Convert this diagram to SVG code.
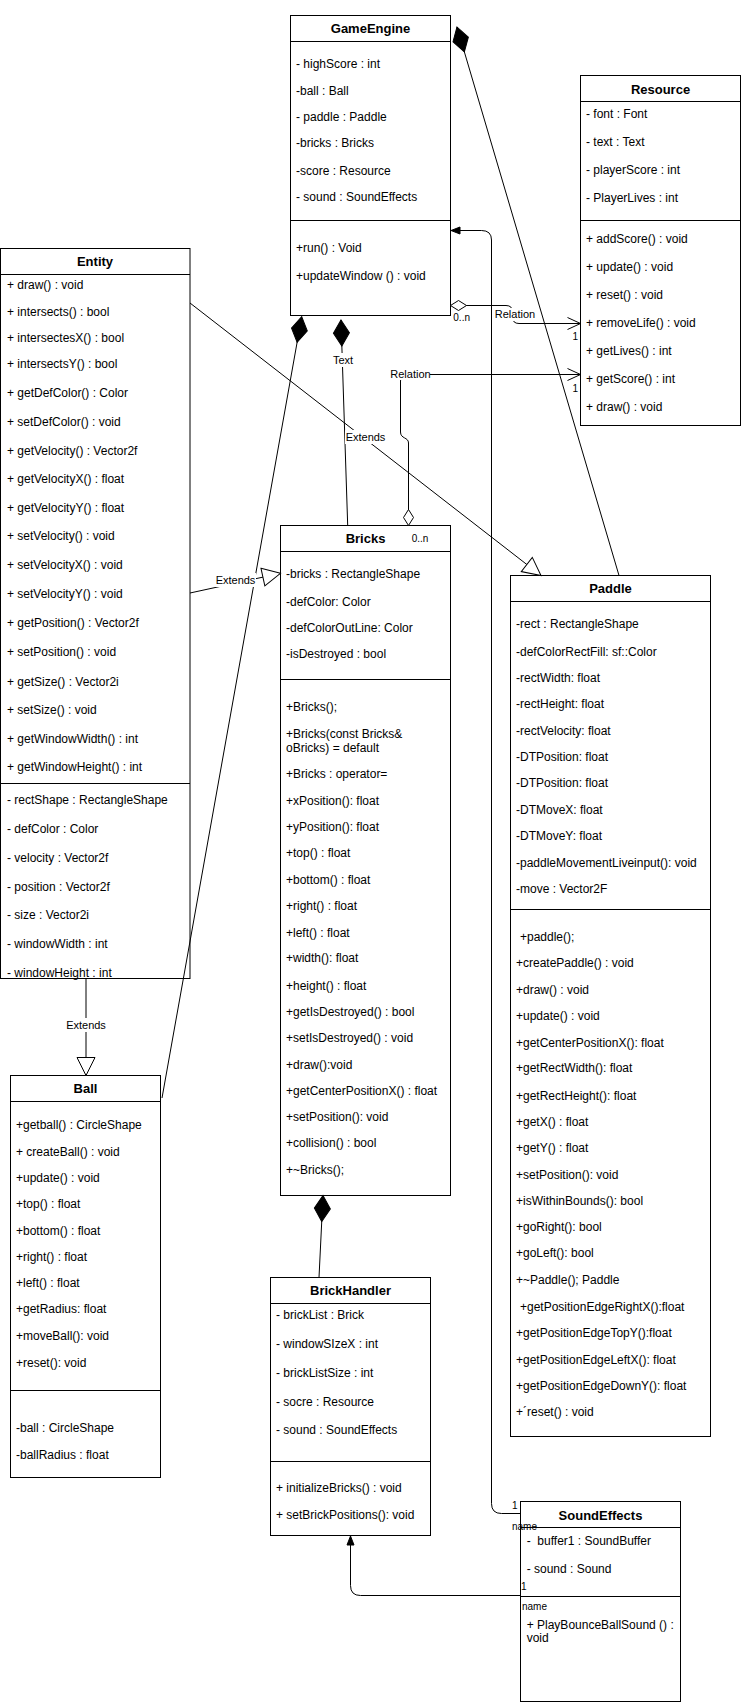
<svg xmlns="http://www.w3.org/2000/svg" width="741" height="1705" viewBox="0 0 741 1705">
<style>
.box{fill:#fff;stroke:#000;stroke-width:1}
.ln{fill:none;stroke:#000;stroke-width:1}
text{font-family:"Liberation Sans",Arial,sans-serif;font-size:12px;fill:#000}
.ti{font-weight:bold;font-size:13px;text-anchor:middle}
.lb{font-size:11px;text-anchor:middle}
.sm{font-size:10px}
.bg{fill:#fff;stroke:none}
</style>
<defs>
<marker id="dFill" markerUnits="userSpaceOnUse" markerWidth="28" markerHeight="18" refX="0" refY="8" orient="auto" overflow="visible"><path d="M0,8 L13,0 L26,8 L13,16 Z" fill="#000" stroke="#000"/></marker>
<marker id="dHol" markerUnits="userSpaceOnUse" markerWidth="18" markerHeight="12" refX="0" refY="5" orient="auto" overflow="visible"><path d="M0,5 L8,0 L16,5 L8,10 Z" fill="#fff" stroke="#000"/></marker>
<marker id="tri" markerUnits="userSpaceOnUse" markerWidth="20" markerHeight="20" refX="18" refY="9" orient="auto" overflow="visible"><path d="M0,0 L18,9 L0,18 Z" fill="#fff" stroke="#000"/></marker>
<marker id="open" markerUnits="userSpaceOnUse" markerWidth="14" markerHeight="14" refX="13" refY="6" orient="auto" overflow="visible"><path d="M0,0 L13,6 L0,12" fill="none" stroke="#000"/></marker>
<marker id="fill" markerUnits="userSpaceOnUse" markerWidth="10" markerHeight="8" refX="9" refY="3.5" orient="auto" overflow="visible"><path d="M0,0 L9,3.5 L0,7 Z" fill="#000" stroke="#000"/></marker>
</defs>

<g id="GameEngine">
<rect class="box" x="290.5" y="15.5" width="160" height="300"/>
<line class="ln" x1="290.5" y1="41.5" x2="450.5" y2="41.5"/>
<line class="ln" x1="290.5" y1="220.5" x2="450.5" y2="220.5"/>
<text class="ti" x="370.5" y="33">GameEngine</text>
<text x="296" y="68">- highScore : int</text>
<text x="296" y="95">-ball : Ball</text>
<text x="296" y="121">- paddle : Paddle</text>
<text x="296" y="147">-bricks : Bricks</text>
<text x="296" y="175">-score : Resource</text>
<text x="296" y="201">- sound : SoundEffects</text>
<text x="296" y="252">+run() : Void</text>
<text x="296" y="280">+updateWindow () : void</text>
</g>

<g id="Resource">
<rect class="box" x="580.5" y="75.5" width="160" height="350"/>
<line class="ln" x1="580.5" y1="101.5" x2="740.5" y2="101.5"/>
<line class="ln" x1="580.5" y1="220.5" x2="740.5" y2="220.5"/>
<text class="ti" x="660.5" y="94">Resource</text>
<text x="586" y="118">- font : Font</text>
<text x="586" y="146">- text : Text</text>
<text x="586" y="174">- playerScore : int</text>
<text x="586" y="202">- PlayerLives : int</text>
<text x="586" y="243">+ addScore() : void</text>
<text x="586" y="271">+ update() : void</text>
<text x="586" y="299">+ reset() : void</text>
<text x="586" y="327">+ removeLife() : void</text>
<text x="586" y="355">+ getLives() : int</text>
<text x="586" y="383">+ getScore() : int</text>
<text x="586" y="411">+ draw() : void</text>
</g>

<g id="Entity">
<rect class="box" x="0.5" y="248.5" width="189.5" height="730"/>
<line class="ln" x1="0.5" y1="274.5" x2="190" y2="274.5"/>
<line class="ln" x1="0.5" y1="783.5" x2="190" y2="783.5"/>
<text class="ti" x="95" y="266">Entity</text>
<text x="7" y="289">+ draw() : void</text>
<text x="7" y="316">+ intersects() : bool</text>
<text x="7" y="342">+ intersectesX() : bool</text>
<text x="7" y="368">+ intersectsY() : bool</text>
<text x="7" y="397">+ getDefColor() : Color</text>
<text x="7" y="426">+ setDefColor() : void</text>
<text x="7" y="455">+ getVelocity() : Vector2f</text>
<text x="7" y="483">+ getVelocityX() : float</text>
<text x="7" y="512">+ getVelocityY() : float</text>
<text x="7" y="540">+ setVelocity() : void</text>
<text x="7" y="569">+ setVelocityX() : void</text>
<text x="7" y="598">+ setVelocityY() : void</text>
<text x="7" y="627">+ getPosition() : Vector2f</text>
<text x="7" y="656">+ setPosition() : void</text>
<text x="7" y="686">+ getSize() : Vector2i</text>
<text x="7" y="714">+ setSize() : void</text>
<text x="7" y="743">+ getWindowWidth() : int</text>
<text x="7" y="771">+ getWindowHeight() : int</text>
<text x="7" y="804">- rectShape : RectangleShape</text>
<text x="7" y="833">- defColor : Color</text>
<text x="7" y="862">- velocity : Vector2f</text>
<text x="7" y="891">- position : Vector2f</text>
<text x="7" y="919">- size : Vector2i</text>
<text x="7" y="948">- windowWidth : int</text>
<text x="7" y="977">- windowHeight : int</text>
</g>

<g id="Bricks">
<rect class="box" x="280.5" y="525.5" width="170" height="670"/>
<line class="ln" x1="280.5" y1="551.5" x2="450.5" y2="551.5"/>
<line class="ln" x1="280.5" y1="679.5" x2="450.5" y2="679.5"/>
<text class="ti" x="365.5" y="543">Bricks</text>
<text class="sm" x="411.7" y="541.5">0..n</text>
<text x="286" y="578">-bricks : RectangleShape</text>
<text x="286" y="606">-defColor: Color</text>
<text x="286" y="632">-defColorOutLine: Color</text>
<text x="286" y="658">-isDestroyed : bool</text>
<text x="286" y="711">+Bricks();</text>
<text x="286" y="738">+Bricks(const Bricks&amp;</text>
<text x="286" y="752">oBricks) = default</text>
<text x="286" y="778">+Bricks : operator=</text>
<text x="286" y="805">+xPosition(): float</text>
<text x="286" y="831">+yPosition(): float</text>
<text x="286" y="857">+top() : float</text>
<text x="286" y="884">+bottom() : float</text>
<text x="286" y="910">+right() : float</text>
<text x="286" y="937">+left() : float</text>
<text x="286" y="962">+width(): float</text>
<text x="286" y="990">+height() : float</text>
<text x="286" y="1016">+getIsDestroyed() : bool</text>
<text x="286" y="1042">+setIsDestroyed() : void</text>
<text x="286" y="1069">+draw():void</text>
<text x="286" y="1095">+getCenterPositionX() : float</text>
<text x="286" y="1121">+setPosition(): void</text>
<text x="286" y="1147">+collision() : bool</text>
<text x="286" y="1174">+~Bricks();</text>
</g>

<g id="Paddle">
<rect class="box" x="510.5" y="575.5" width="200" height="861"/>
<line class="ln" x1="510.5" y1="601.5" x2="710.5" y2="601.5"/>
<line class="ln" x1="510.5" y1="909.5" x2="710.5" y2="909.5"/>
<text class="ti" x="610.5" y="593">Paddle</text>
<text x="516" y="628">-rect : RectangleShape</text>
<text x="516" y="656">-defColorRectFill: sf::Color</text>
<text x="516" y="682">-rectWidth: float</text>
<text x="516" y="708">-rectHeight: float</text>
<text x="516" y="735">-rectVelocity: float</text>
<text x="516" y="761">-DTPosition: float</text>
<text x="516" y="787">-DTPosition: float</text>
<text x="516" y="814">-DTMoveX: float</text>
<text x="516" y="840">-DTMoveY: float</text>
<text x="516" y="867">-paddleMovementLiveinput(): void</text>
<text x="516" y="893">-move : Vector2F</text>
<text x="520" y="941">+paddle();</text>
<text x="516" y="967">+createPaddle() : void</text>
<text x="516" y="994">+draw() : void</text>
<text x="516" y="1020">+update() : void</text>
<text x="516" y="1047">+getCenterPositionX(): float</text>
<text x="516" y="1072">+getRectWidth(): float</text>
<text x="516" y="1100">+getRectHeight(): float</text>
<text x="516" y="1126">+getX() : float</text>
<text x="516" y="1152">+getY() : float</text>
<text x="516" y="1179">+setPosition(): void</text>
<text x="516" y="1205">+isWithinBounds(): bool</text>
<text x="516" y="1231">+goRight(): bool</text>
<text x="516" y="1257">+goLeft(): bool</text>
<text x="516" y="1284">+~Paddle(); Paddle</text>
<text x="520" y="1311">+getPositionEdgeRightX():float</text>
<text x="516" y="1337">+getPositionEdgeTopY():float</text>
<text x="516" y="1364">+getPositionEdgeLeftX(): float</text>
<text x="516" y="1390">+getPositionEdgeDownY(): float</text>
<text x="516" y="1416">+´reset() : void</text>
</g>

<g id="Ball">
<rect class="box" x="10.5" y="1075.5" width="150" height="402"/>
<line class="ln" x1="10.5" y1="1101.5" x2="160.5" y2="1101.5"/>
<line class="ln" x1="10.5" y1="1390.5" x2="160.5" y2="1390.5"/>
<text class="ti" x="85.5" y="1093">Ball</text>
<text x="16" y="1129">+getball() : CircleShape</text>
<text x="16" y="1156">+ createBall() : void</text>
<text x="16" y="1182">+update() : void</text>
<text x="16" y="1208">+top() : float</text>
<text x="16" y="1235">+bottom() : float</text>
<text x="16" y="1261">+right() : float</text>
<text x="16" y="1287">+left() : float</text>
<text x="16" y="1313">+getRadius: float</text>
<text x="16" y="1340">+moveBall(): void</text>
<text x="16" y="1367">+reset(): void</text>
<text x="16" y="1432">-ball : CircleShape</text>
<text x="16" y="1459">-ballRadius : float</text>
</g>

<g id="BrickHandler">
<rect class="box" x="270.5" y="1277.5" width="160" height="258"/>
<line class="ln" x1="270.5" y1="1303.5" x2="430.5" y2="1303.5"/>
<line class="ln" x1="270.5" y1="1461.5" x2="430.5" y2="1461.5"/>
<text class="ti" x="350.5" y="1295">BrickHandler</text>
<text x="276" y="1319">- brickList : Brick</text>
<text x="276" y="1348">- windowSIzeX : int</text>
<text x="276" y="1377">- brickListSize : int</text>
<text x="276" y="1406">- socre : Resource</text>
<text x="276" y="1434">- sound : SoundEffects</text>
<text x="276" y="1492">+ initializeBricks() : void</text>
<text x="276" y="1519">+ setBrickPositions(): void</text>
</g>

<g id="SoundEffects">
<rect class="box" x="520.5" y="1501.5" width="160" height="200"/>
<line class="ln" x1="520.5" y1="1527.5" x2="680.5" y2="1527.5"/>
<line class="ln" x1="520.5" y1="1596.5" x2="680.5" y2="1596.5"/>
<text class="ti" x="600.5" y="1520">SoundEffects</text>
<text x="526.7" y="1545" xml:space="preserve">-  buffer1 : SoundBuffer</text>
<text x="526.7" y="1573">- sound : Sound</text>
<text x="526.7" y="1629">+ PlayBounceBallSound () :</text>
<text x="526.7" y="1642">void</text>
</g>

<g id="connectors">
<path class="ln" d="M457,27 L619,575.5" marker-start="url(#dFill)"/>
<path class="ln" d="M301.7,316.7 L162,1098" marker-start="url(#dFill)"/>
<path class="ln" d="M341,320 L347.7,525.5" marker-start="url(#dFill)"/>
<path class="ln" d="M323,1195.5 L319,1277.5" marker-start="url(#dFill)"/>
<path class="ln" d="M190,303 L541,575.5" marker-end="url(#tri)"/>
<path class="ln" d="M190,593 L280.5,573.3" marker-end="url(#tri)"/>
<path class="ln" d="M86,978.5 L86,1075.5" marker-end="url(#tri)"/>
<path class="ln" d="M450.5,305.5 L506,305.5 Q512.5,305.5 512.5,312 L512.5,317 Q512.5,323.5 519,323.5 L580.5,323.5" marker-start="url(#dHol)" marker-end="url(#open)"/>
<path class="ln" d="M408.5,525.5 L408.5,443 C408.5,437 400.5,439 400.5,432 L400.5,381 Q400.5,374.5 407,374.5 L580.5,374.5" marker-start="url(#dHol)" marker-end="url(#open)"/>
<path class="ln" d="M520.5,1513.5 L501.5,1513.5 Q491.5,1513.5 491.5,1503.5 L491.5,240 Q491.5,230.5 481.5,230.5 L451,230.5" marker-end="url(#fill)"/>
<path class="ln" d="M520.5,1595.5 L360.5,1595.5 Q350.5,1595.5 350.5,1585.5 L350.5,1536" marker-end="url(#fill)"/>
<rect class="bg" x="330" y="353" width="26" height="14"/>
<text class="lb" x="343" y="364">Text</text>
<rect class="bg" x="345" y="430" width="41" height="14"/>
<text class="lb" x="365.5" y="441">Extends</text>
<rect class="bg" x="215" y="573" width="41" height="14"/>
<text class="lb" x="235.5" y="584">Extends</text>
<rect class="bg" x="65" y="1018" width="42" height="14"/>
<text class="lb" x="86" y="1029">Extends</text>
<rect class="bg" x="495" y="308" width="40" height="13"/>
<text class="lb" x="515" y="318">Relation</text>
<rect class="bg" x="390" y="367" width="40" height="13"/>
<text class="lb" x="410.5" y="378">Relation</text>
<text class="sm" x="453.3" y="320.5">0..n</text>
<text class="sm" x="572.5" y="340">1</text>
<text class="sm" x="572.5" y="391.5">1</text>
<text class="sm" x="512" y="1508.5">1</text>
<text class="sm" x="512" y="1530">name</text>
<text class="sm" x="521" y="1590">1</text>
<text class="sm" x="522" y="1610">name</text>
</g>
</svg>
